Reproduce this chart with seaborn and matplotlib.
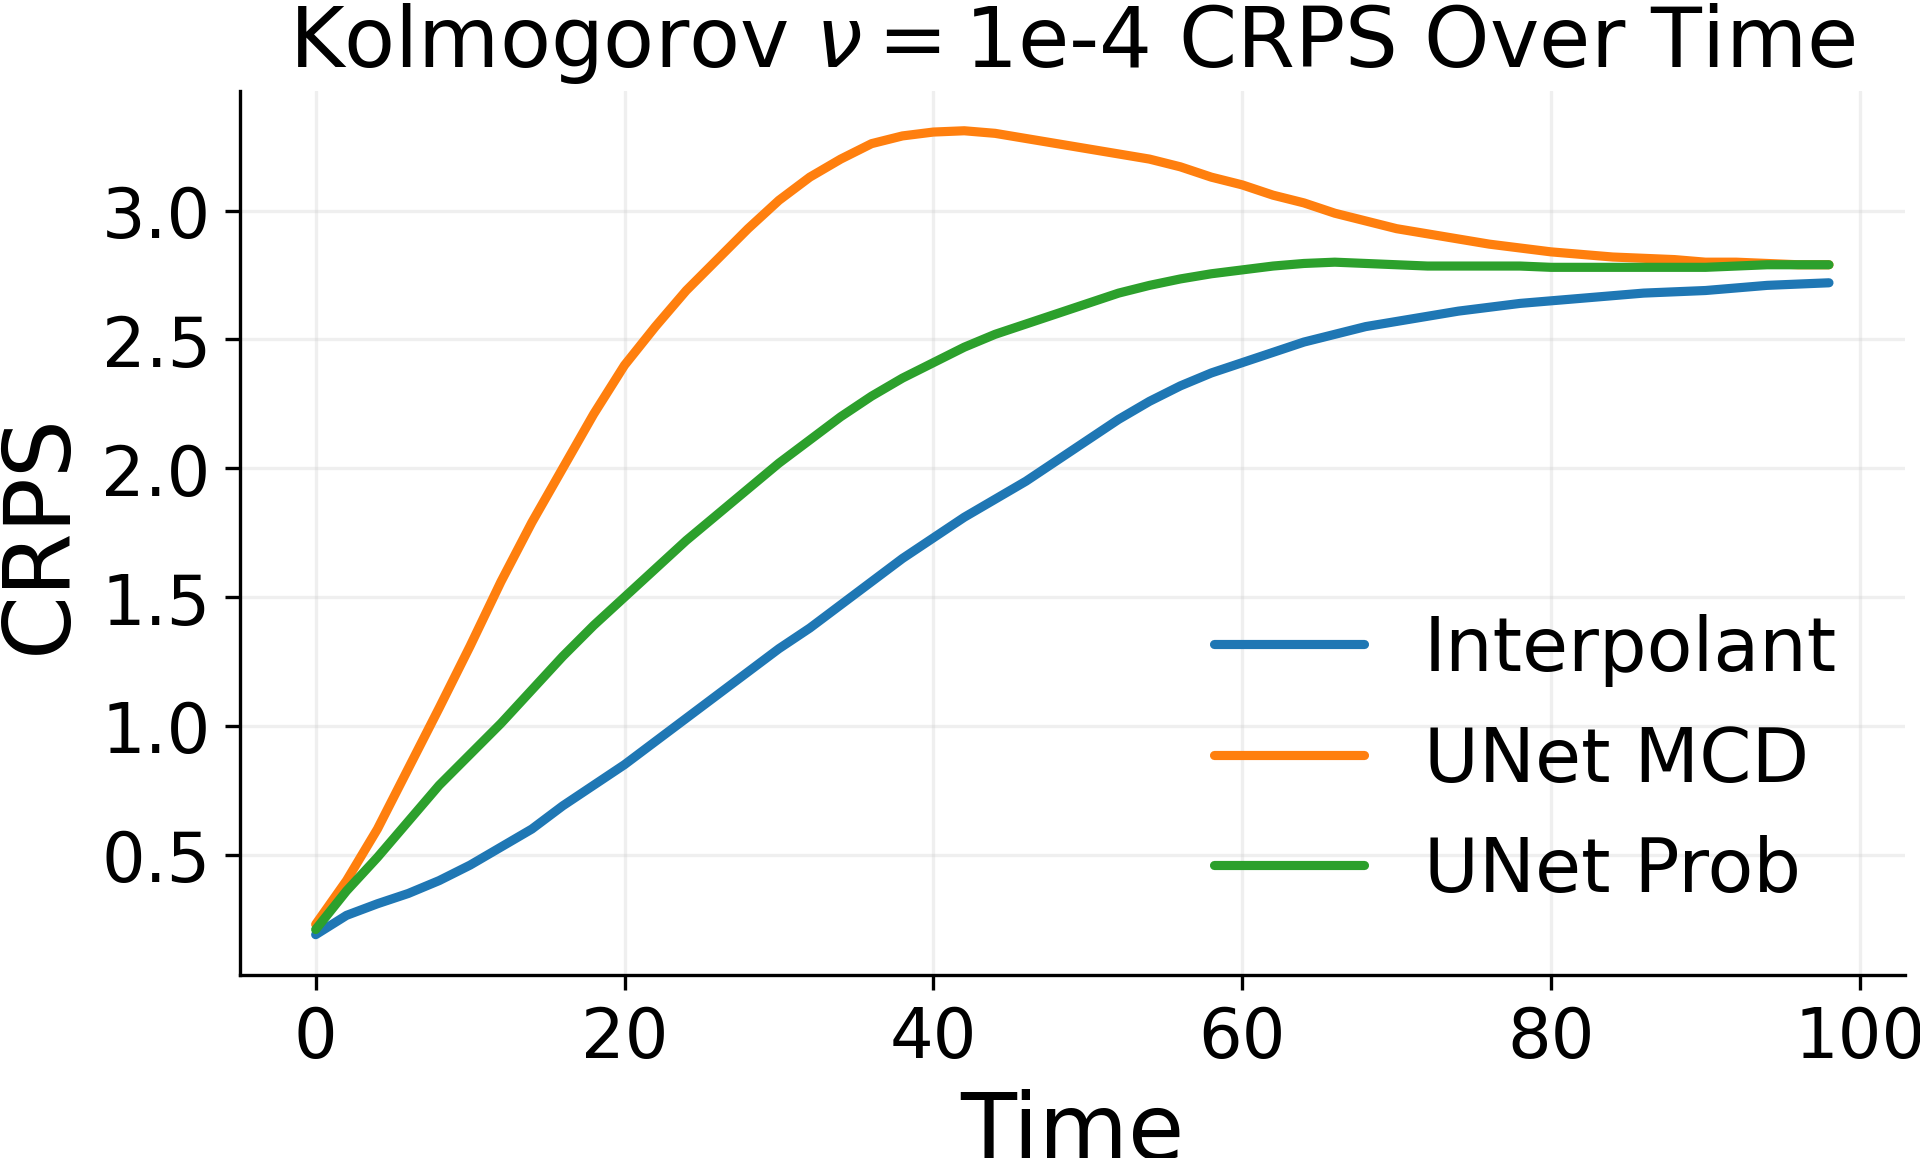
import numpy as np
import pandas as pd
import matplotlib
matplotlib.use("Agg")
import matplotlib.pyplot as plt
import seaborn as sns

# time steps (every 2 steps)
time_steps = list(range(0, 100, 2))

crps_interpolant = [
    0.19, 0.265, 0.31, 0.35, 0.40, 0.46, 0.53, 0.60, 0.69, 0.77,
    0.85, 0.94, 1.03, 1.12, 1.21, 1.30, 1.38, 1.47, 1.56, 1.65,
    1.73, 1.81, 1.88, 1.95, 2.03, 2.11, 2.19, 2.26, 2.32, 2.37,
    2.41, 2.45, 2.49, 2.52, 2.55, 2.57, 2.59, 2.61, 2.625, 2.64,
    2.65, 2.66, 2.67, 2.68, 2.685, 2.69, 2.70, 2.71, 2.715, 2.72,
]
crps_unet_mcd = [
    0.23, 0.40, 0.60, 0.835, 1.07, 1.31, 1.56, 1.79, 2.00, 2.21,
    2.40, 2.55, 2.69, 2.81, 2.93, 3.04, 3.13, 3.20, 3.26, 3.29,
    3.305, 3.31, 3.30, 3.28, 3.26, 3.24, 3.22, 3.20, 3.17, 3.13,
    3.10, 3.06, 3.03, 2.99, 2.96, 2.93, 2.91, 2.89, 2.87, 2.855,
    2.84, 2.83, 2.82, 2.815, 2.81, 2.80, 2.80, 2.795, 2.79, 2.79,
]
crps_unet_prob = [
    0.21, 0.36, 0.49, 0.63, 0.77, 0.89, 1.01, 1.14, 1.27, 1.39,
    1.50, 1.61, 1.72, 1.82, 1.92, 2.02, 2.11, 2.20, 2.28, 2.35,
    2.41, 2.47, 2.52, 2.56, 2.60, 2.64, 2.68, 2.71, 2.735, 2.755,
    2.77, 2.785, 2.795, 2.80, 2.795, 2.79, 2.785, 2.785, 2.785, 2.785,
    2.78, 2.78, 2.78, 2.78, 2.78, 2.78, 2.785, 2.79, 2.79, 2.79,
]
model_names = ["Interpolant", "UNet MCD", "UNet Prob"]

# long-form table for seaborn
frames = []
for name, vals in zip(model_names, [crps_interpolant, crps_unet_mcd, crps_unet_prob]):
    frames.append(pd.DataFrame({"Time": time_steps, "CRPS": vals, "Model": name}))
df = pd.concat(frames, ignore_index=True)

sns.set_style("ticks")
plt.rcParams['font.family'] = ['DejaVu Sans']
plt.rcParams.update({
    "text.color": "black",
    "axes.labelcolor": "black",
    "axes.edgecolor": "black",
    "xtick.color": "black",
    "ytick.color": "black",
})

fig, ax = plt.subplots(figsize=(6.4, 3.8633), dpi=300)
fig.subplots_adjust(left=0.125, right=0.992, top=0.921, bottom=0.158)

palette = {"Interpolant": "#1f77b4", "UNet MCD": "#ff7f0e", "UNet Prob": "#2ca02c"}
sns.lineplot(data=df, x="Time", y="CRPS", hue="Model", palette=palette,
             linewidth=2.2, ax=ax)

ax.set_title(r"Kolmogorov $\nu=$1e-4 CRPS Over Time", fontsize=20)
ax.set_xlabel("Time", fontsize=22)
ax.set_ylabel("CRPS", fontsize=22)
ax.tick_params(labelsize=16.5)
ax.set_yticks([0.5, 1.0, 1.5, 2.0, 2.5, 3.0])
ax.grid(True, alpha=0.3)
sns.despine(ax=ax)

ax.legend(loc="lower right", frameon=False, fontsize=18)

fig.savefig("out.png", dpi=300)
